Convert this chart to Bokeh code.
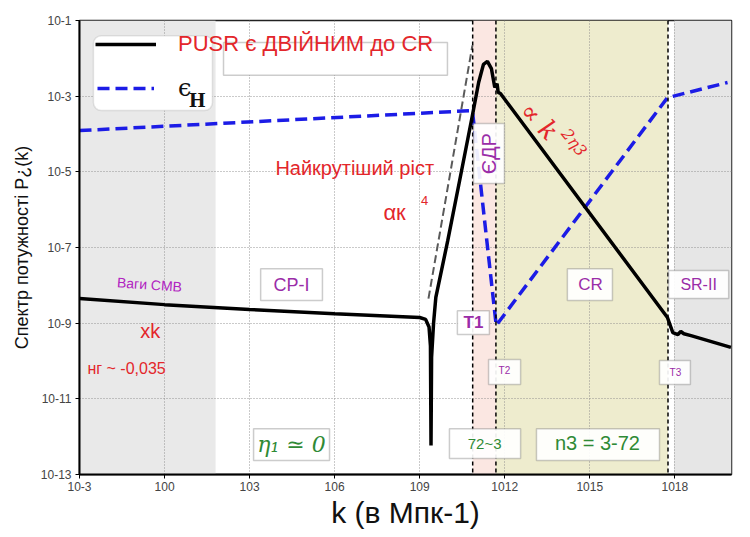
from bokeh.plotting import figure
from bokeh.models import (Range1d, FixedTicker, Span, BoxAnnotation, Label,
                          Legend, LegendItem)
from bokeh.embed import file_html
from bokeh.resources import INLINE

# ---------------- data (log10 units) ----------------
x_ticks = [-3, 0, 3, 6, 9, 12, 15, 18]
x_tick_labels = ["10-3", "100", "103", "106", "109", "1012", "1015", "1018"]
y_ticks = [-13, -11, -9, -7, -5, -3, -1]
y_tick_labels = ["10-13", "10-11", "10-9", "10-7", "10-5", "10-3", "10-1"]

# PUSR power spectrum (log10 k, log10 P)
pusr_logk = [-3.0, 0.0, 3.0, 6.0, 9.0, 9.21, 9.33, 9.38, 9.40, 9.42, 9.49,
             9.57, 9.99, 10.41, 10.86, 11.08, 11.25, 11.39, 11.53, 11.65,
             11.73, 11.77, 11.85, 17.74, 17.93, 18.11, 18.21,
             18.32, 18.57, 19.98]
pusr_logp = [-8.35, -8.51, -8.64, -8.75, -8.85, -8.90, -9.10, -9.60, -12.23,
             -9.90, -9.00, -8.32, -6.82, -5.23, -3.51, -2.64, -2.16, -2.08,
             -2.27, -2.77, -2.67, -2.90, -2.93, -8.85, -9.25,
             -9.30, -9.22, -9.28, -9.33, -9.64]

# epsilon_H (log10 k, log10 value)
eps_logk = [-3.0, 10.86, 11.70, 17.74, 19.86]
eps_logp = [-3.91, -3.38, -9.06, -3.04, -2.64]

# k^4 asymptote (gray dashed)
asym_logk = [9.31, 10.86]
asym_logp = [-8.35, -1.66]

# vertical transition lines (log10 k)
transition_logk = [10.87, 11.69, 17.76]

# shaded regions (log10 k edges)
region_left = [-3.0, 10.87, 11.69, 17.97]
region_right = [1.80, 11.69, 17.76, 20.0]
region_colors = ["#e9e9e9", "#fbe7e2", "#eeecce", "#e6e6e6"]

RED = "#e3262b"
PURPLE = "#9a2ca8"
GREEN = "#2f8a35"

p = figure(width=742, height=536, x_range=Range1d(-3, 20),
           y_range=Range1d(-13, -1), output_backend="svg",
           toolbar_location=None, min_border_left=79, min_border_top=20,
           min_border_right=11, min_border_bottom=62)
p.background_fill_color = "white"
p.border_fill_color = "white"
p.outline_line_color = "#222222"
p.outline_line_width = 1.5

# shaded regions below the grid
p.quad(left=region_left, right=region_right, bottom=-13, top=-1,
       fill_color=region_colors, line_color=None, level="image")

# axes
p.xaxis.ticker = FixedTicker(ticks=x_ticks)
p.yaxis.ticker = FixedTicker(ticks=y_ticks)
p.xaxis.major_label_overrides = dict(zip(x_ticks, x_tick_labels))
p.yaxis.major_label_overrides = dict(zip(y_ticks, y_tick_labels))
for ax in (p.xaxis, p.yaxis):
    ax.axis_line_color = "black"
    ax.axis_line_width = 2
    ax.major_tick_line_color = "black"
    ax.major_tick_in = 0
    ax.major_tick_out = 4
    ax.minor_tick_line_color = None
    ax.major_label_text_font = "Liberation Sans"
    ax.major_label_text_font_size = "12px"
    ax.major_label_text_color = "#444444"
    ax.axis_label_text_font = "Liberation Sans"
    ax.axis_label_text_font_style = "normal"
    ax.axis_label_text_color = "#111111"
p.xaxis.major_label_standoff = 3
p.yaxis.major_label_standoff = 4
p.xaxis.axis_label = "k (в Мпк-1)"
p.xaxis.axis_label_text_font_size = "30px"
p.xaxis.axis_label_standoff = 2
p.yaxis.axis_label = "Спектр потужності P¿(k)"
p.yaxis.axis_label_text_font_size = "18px"
p.yaxis.axis_label_standoff = 6

for g in (p.xgrid, p.ygrid):
    g.grid_line_color = "#8a8a8a"
    g.grid_line_dash = "1 2"
    g.grid_line_width = 1
    g.grid_line_alpha = 0.9
p.xgrid.ticker = FixedTicker(ticks=x_ticks)
p.ygrid.ticker = FixedTicker(ticks=y_ticks)

# curves
p.line(asym_logk, asym_logp, line_color="#5a5a5a", line_width=2,
       line_dash="8 4")
r_eps = p.line(eps_logk, eps_logp, line_color="#1c1ce6", line_width=3.5,
               line_dash="12 6")
r_pusr = p.line(pusr_logk, pusr_logp, line_color="black", line_width=3.5)

for v in transition_logk:
    p.add_layout(Span(location=v, dimension="height", line_color="black",
                      line_dash="4 3", line_width=1.5))

# legend frame and red title box
p.add_layout(BoxAnnotation(left=-2.51, right=1.69, top=-1.40, bottom=-3.38,
                           fill_color="white", fill_alpha=1,
                           line_color="#aaaaaa", line_width=1.5,
                           border_radius=8))
p.add_layout(BoxAnnotation(left=2.08, right=9.98, top=-1.58, bottom=-2.45,
                           fill_color="white", fill_alpha=1,
                           line_color="#555555", line_width=1.5))

leg_common = dict(background_fill_alpha=0, border_line_alpha=0, padding=0,
                  margin=0, glyph_height=20, label_height=20)
leg1 = Legend(items=[LegendItem(label="PUSR є ДВІЙНИМ до CR",
                                renderers=[r_pusr])],
              location=(16, 417), glyph_width=61, label_standoff=22,
              label_text_font="Liberation Sans", label_text_font_size="22px",
              label_text_color=RED, **leg_common)
leg2 = Legend(items=[LegendItem(label="ϵ", renderers=[r_eps])],
              location=(18, 372), glyph_width=57, label_standoff=24,
              label_text_font="DejaVu Serif", label_text_font_size="24px",
              label_text_color="#111111", **leg_common)
p.add_layout(leg1)
p.add_layout(leg2)
p.add_layout(Label(x=0.85, y=-3.11, text="H", text_font="DejaVu Serif",
                   text_font_style="bold", text_font_size="18px",
                   text_color="#111111", text_baseline="alphabetic"))

# region boxes
boxes = [
    (3.39, 5.57, -7.56, -8.40),    # CP-I
    (10.33, 11.46, -8.67, -9.30),  # T1
    (11.43, 12.56, -9.96, -10.62), # T2
    (17.46, 18.55, -9.99, -10.62), # T3
    (10.90, 11.99, -3.72, -5.31),  # ЄДР
    (14.21, 15.80, -7.56, -8.40),  # CR
    (17.78, 19.90, -7.61, -8.35),  # SR-II
    (3.14, 5.82, -11.79, -12.63),  # eta
    (10.05, 12.56, -11.79, -12.58),# 72~3
    (13.12, 17.46, -11.79, -12.63),# n3
]
for l, r, t, b in boxes:
    p.add_layout(BoxAnnotation(left=l, right=r, top=t, bottom=b,
                               fill_color="white", fill_alpha=0.92,
                               line_color="#555555", line_width=1.5))


def lab(x, y, text, color, size, font="Liberation Sans", style="normal",
        align="center", angle=0.0):
    p.add_layout(Label(x=x, y=y, text=text, text_color=color,
                       text_font_size=size, text_font=font,
                       text_font_style=style, text_align=align,
                       text_baseline="middle", angle=angle))


lab(4.48, -7.98, "CP-I", PURPLE, "18px")
lab(10.90, -8.98, "T1", PURPLE, "17px", style="bold")
lab(11.99, -10.25, "T2", PURPLE, "10px")
lab(18.02, -10.30, "T3", PURPLE, "10px")
lab(11.43, -4.52, "ЄДР", PURPLE, "20px", angle=1.5708)
lab(15.03, -7.98, "CR", PURPLE, "17px")
lab(18.84, -7.98, "SR-II", PURPLE, "16px")
lab(4.48, -12.21, "η₁ ≃ 0", GREEN, "22px", font="DejaVu Serif",
    style="italic")
lab(11.29, -12.18, "72~3", GREEN, "15px")
lab(15.27, -12.18, "n3 = 3-72", GREEN, "20px")

lab(3.91, -4.91, "Найкрутіший ріст", RED, "20px", align="left")
lab(7.72, -6.08, "αк", RED, "22px", align="left")
lab(9.17, -5.76, "4", RED, "13px")
lab(-0.53, -7.98, "Ваги CMB", "#b022c0", "14px", angle=-0.07)
lab(-0.50, -9.20, "xk", RED, "20px")
lab(-1.34, -10.20, "нг ~ -0,035", RED, "16px")
lab(13.22, -3.66, "∝ k", RED, "26px", font="DejaVu Serif",
    style="italic", angle=-0.78)
lab(14.45, -4.22, "2η3", RED, "16px", font="DejaVu Serif",
    style="italic", angle=-0.9)

open("out.html", "w").write(file_html(p, INLINE))
